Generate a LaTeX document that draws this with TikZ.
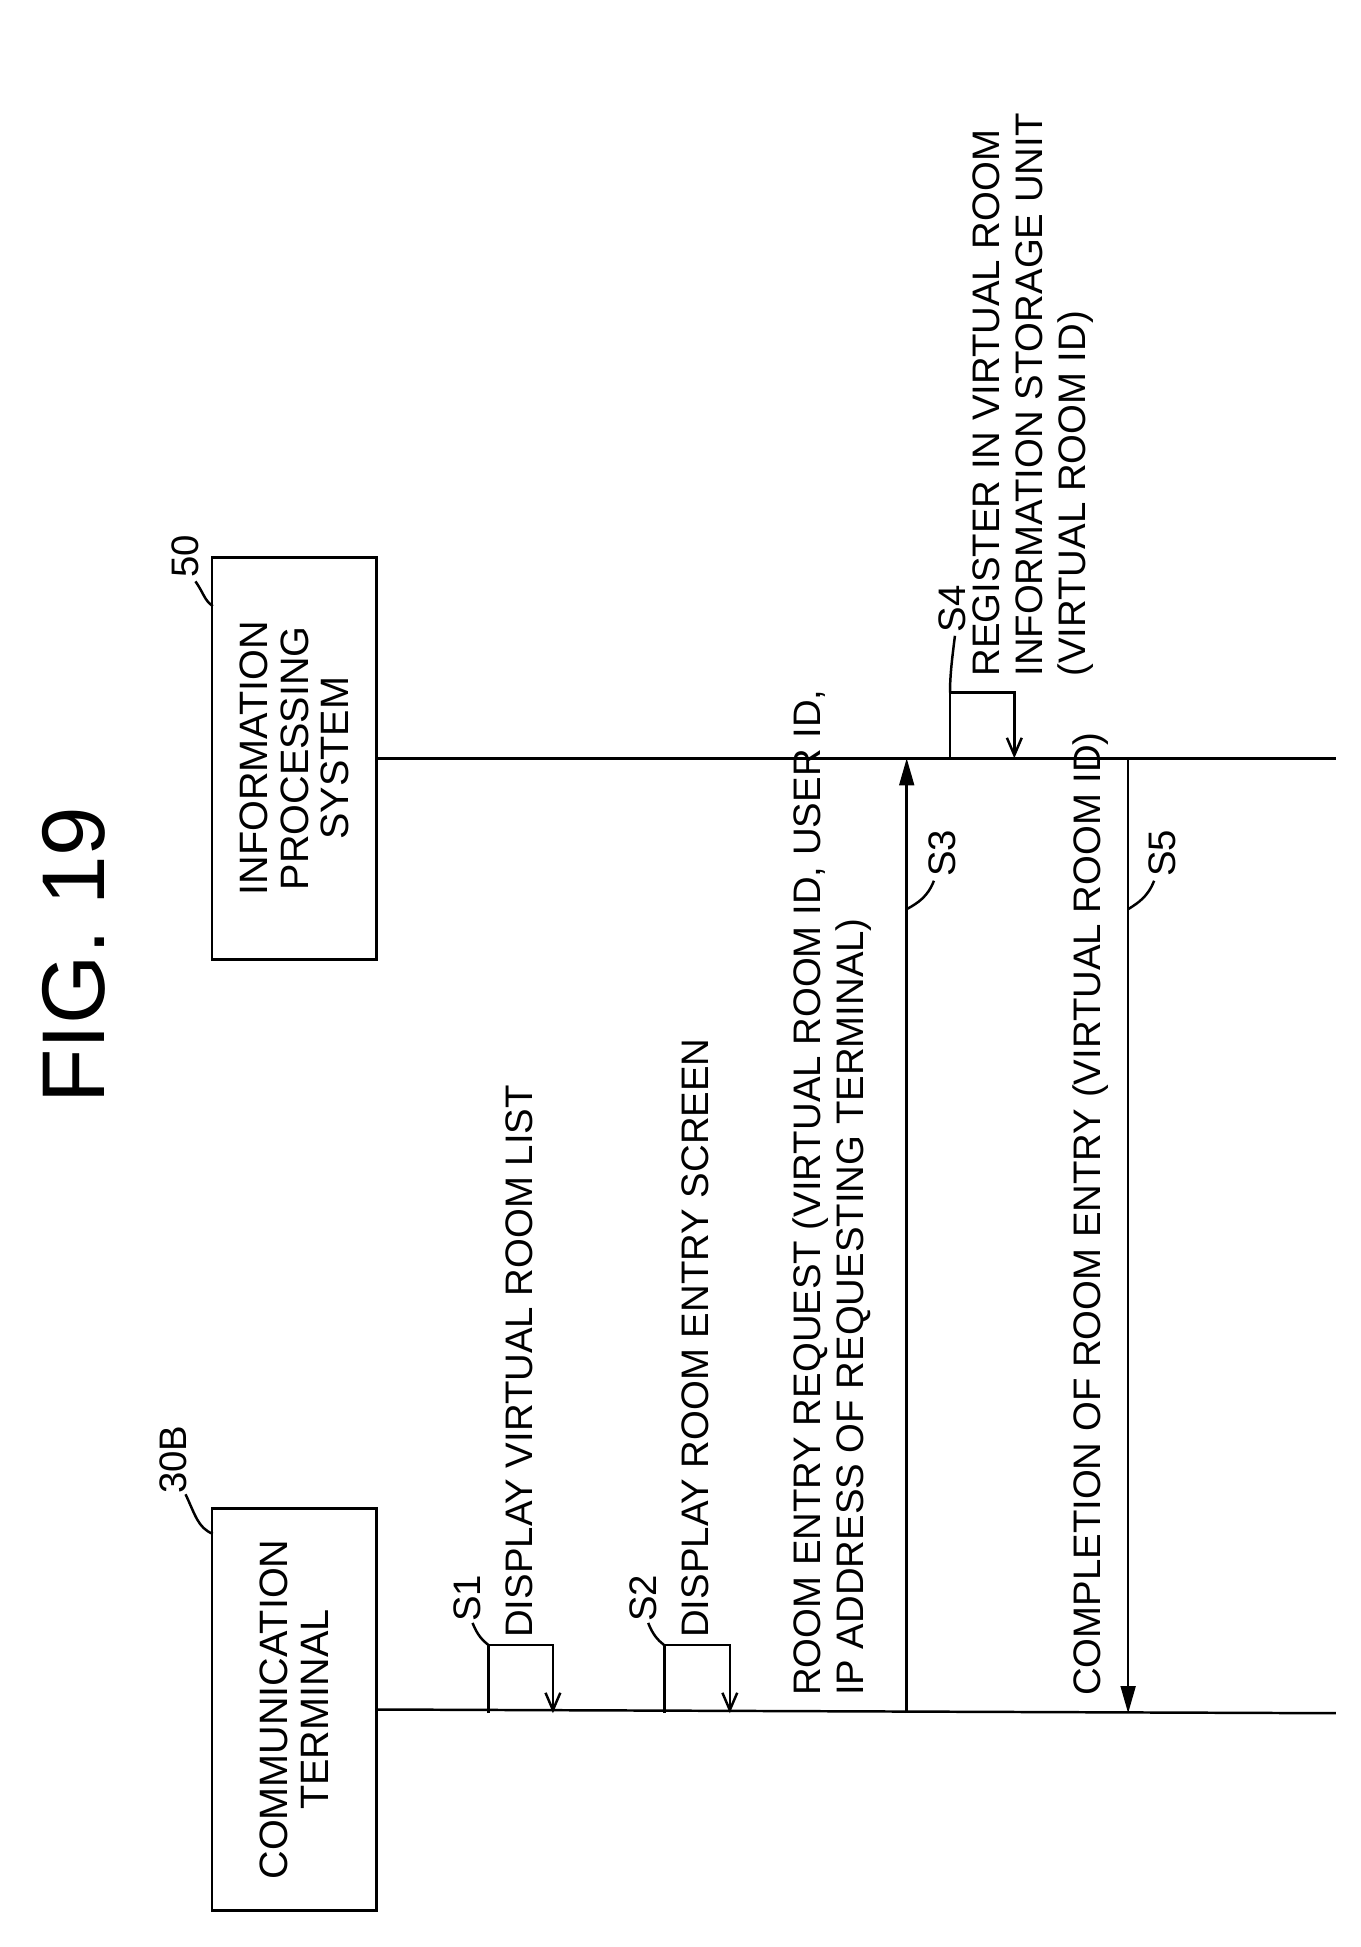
\documentclass[tikz,border=0pt]{standalone}
\usepackage{fontspec}
\setmainfont{Liberation Sans}
\usetikzlibrary{arrows.meta}
\begin{document}
\begin{tikzpicture}[x=1pt,y=-1pt,line width=2pt,
 txt/.style={font=\fontsize{31}{35}\selectfont,rotate=90,inner sep=0pt},
 box/.style={draw,line width=2pt,minimum width=325pt,minimum height=133pt,align=center,font=\fontsize{32}{33}\selectfont,rotate=90,inner sep=0pt},
 arr/.style={-{Straight Barb[length=14pt,width=12pt]}},
 farr/.style={-{Triangle[length=22pt,width=12pt]}}]
\useasboundingbox (0,0) rectangle (1100,1574);
\node[rotate=90,font=\fontsize{72}{72}\selectfont] (title) at (60,772) {FIG. 19};
\node[box] (ct) at (238,1382) {COMMUNICATION\\TERMINAL};
\node[box] (ips) at (238,613) {INFORMATION\\PROCESSING\\SYSTEM};
\coordinate (ctend) at (1080,1385);
\coordinate (ipsend) at (1080,613);
\draw (ct.south) -- (ctend);
\draw (ips.south) -- (ipsend);
\node[txt] (l30) at (140,1180) {30B};
\draw (150,1208) .. controls (158,1225) and (160,1235) .. (172,1240);
\node[txt] (l50) at (150,450) {50};
\draw (158,470) .. controls (165,480) and (165,485) .. (172,490);
% S1
\coordinate (a1) at (395,1385); \coordinate (b1) at (447,1385);
\draw[arr] (a1) -- (395,1330) -- (447,1330) -- (b1);
\node[txt] (s1) at (378,1292) {S1};
\draw (382,1312) .. controls (386,1322) and (390,1326) .. (395,1330);
\node[txt,anchor=west] (t1) at (420,1325) {DISPLAY VIRTUAL ROOM LIST};
% S2
\coordinate (a2) at (537,1385); \coordinate (b2) at (590,1385);
\draw[arr] (a2) -- (537,1330) -- (590,1330) -- (b2);
\node[txt] (s2) at (520,1292) {S2};
\draw (524,1312) .. controls (528,1322) and (532,1326) .. (537,1330);
\node[txt,anchor=west] (t2) at (562,1325) {DISPLAY ROOM ENTRY SCREEN};
% S3
\coordinate (a3) at (733,1385); \coordinate (b3) at (733,613);
\draw[farr] (a3) -- (b3);
\node[txt,anchor=north west,align=left] (t3) at (640,1372) {ROOM ENTRY REQUEST (VIRTUAL ROOM ID, USER ID,\\IP ADDRESS OF REQUESTING TERMINAL)};
\node[txt] (s3) at (762,690) {S3};
\draw (755,712) .. controls (750,725) and (742,730) .. (733,735);
% S4
\coordinate (a4) at (768,613); \coordinate (b4) at (820,613);
\draw[arr] (a4) -- (768,560) -- (820,560) -- (b4);
\node[txt] (s4) at (770,492) {S4};
\draw (772,514) .. controls (770,530) and (768,545) .. (768,560);
\node[txt,anchor=north west,align=left] (t4) at (785,548) {REGISTER IN VIRTUAL ROOM\\INFORMATION STORAGE UNIT\\(VIRTUAL ROOM ID)};
% S5
\coordinate (a5) at (912,613); \coordinate (b5) at (912,1385);
\draw[farr] (a5) -- (b5);
\node[txt] (s5) at (940,690) {S5};
\draw (933,712) .. controls (928,725) and (920,730) .. (912,735);
\node[txt,anchor=west] (t5) at (882,1372) {COMPLETION OF ROOM ENTRY (VIRTUAL ROOM ID)};
\end{tikzpicture}
\end{document}
